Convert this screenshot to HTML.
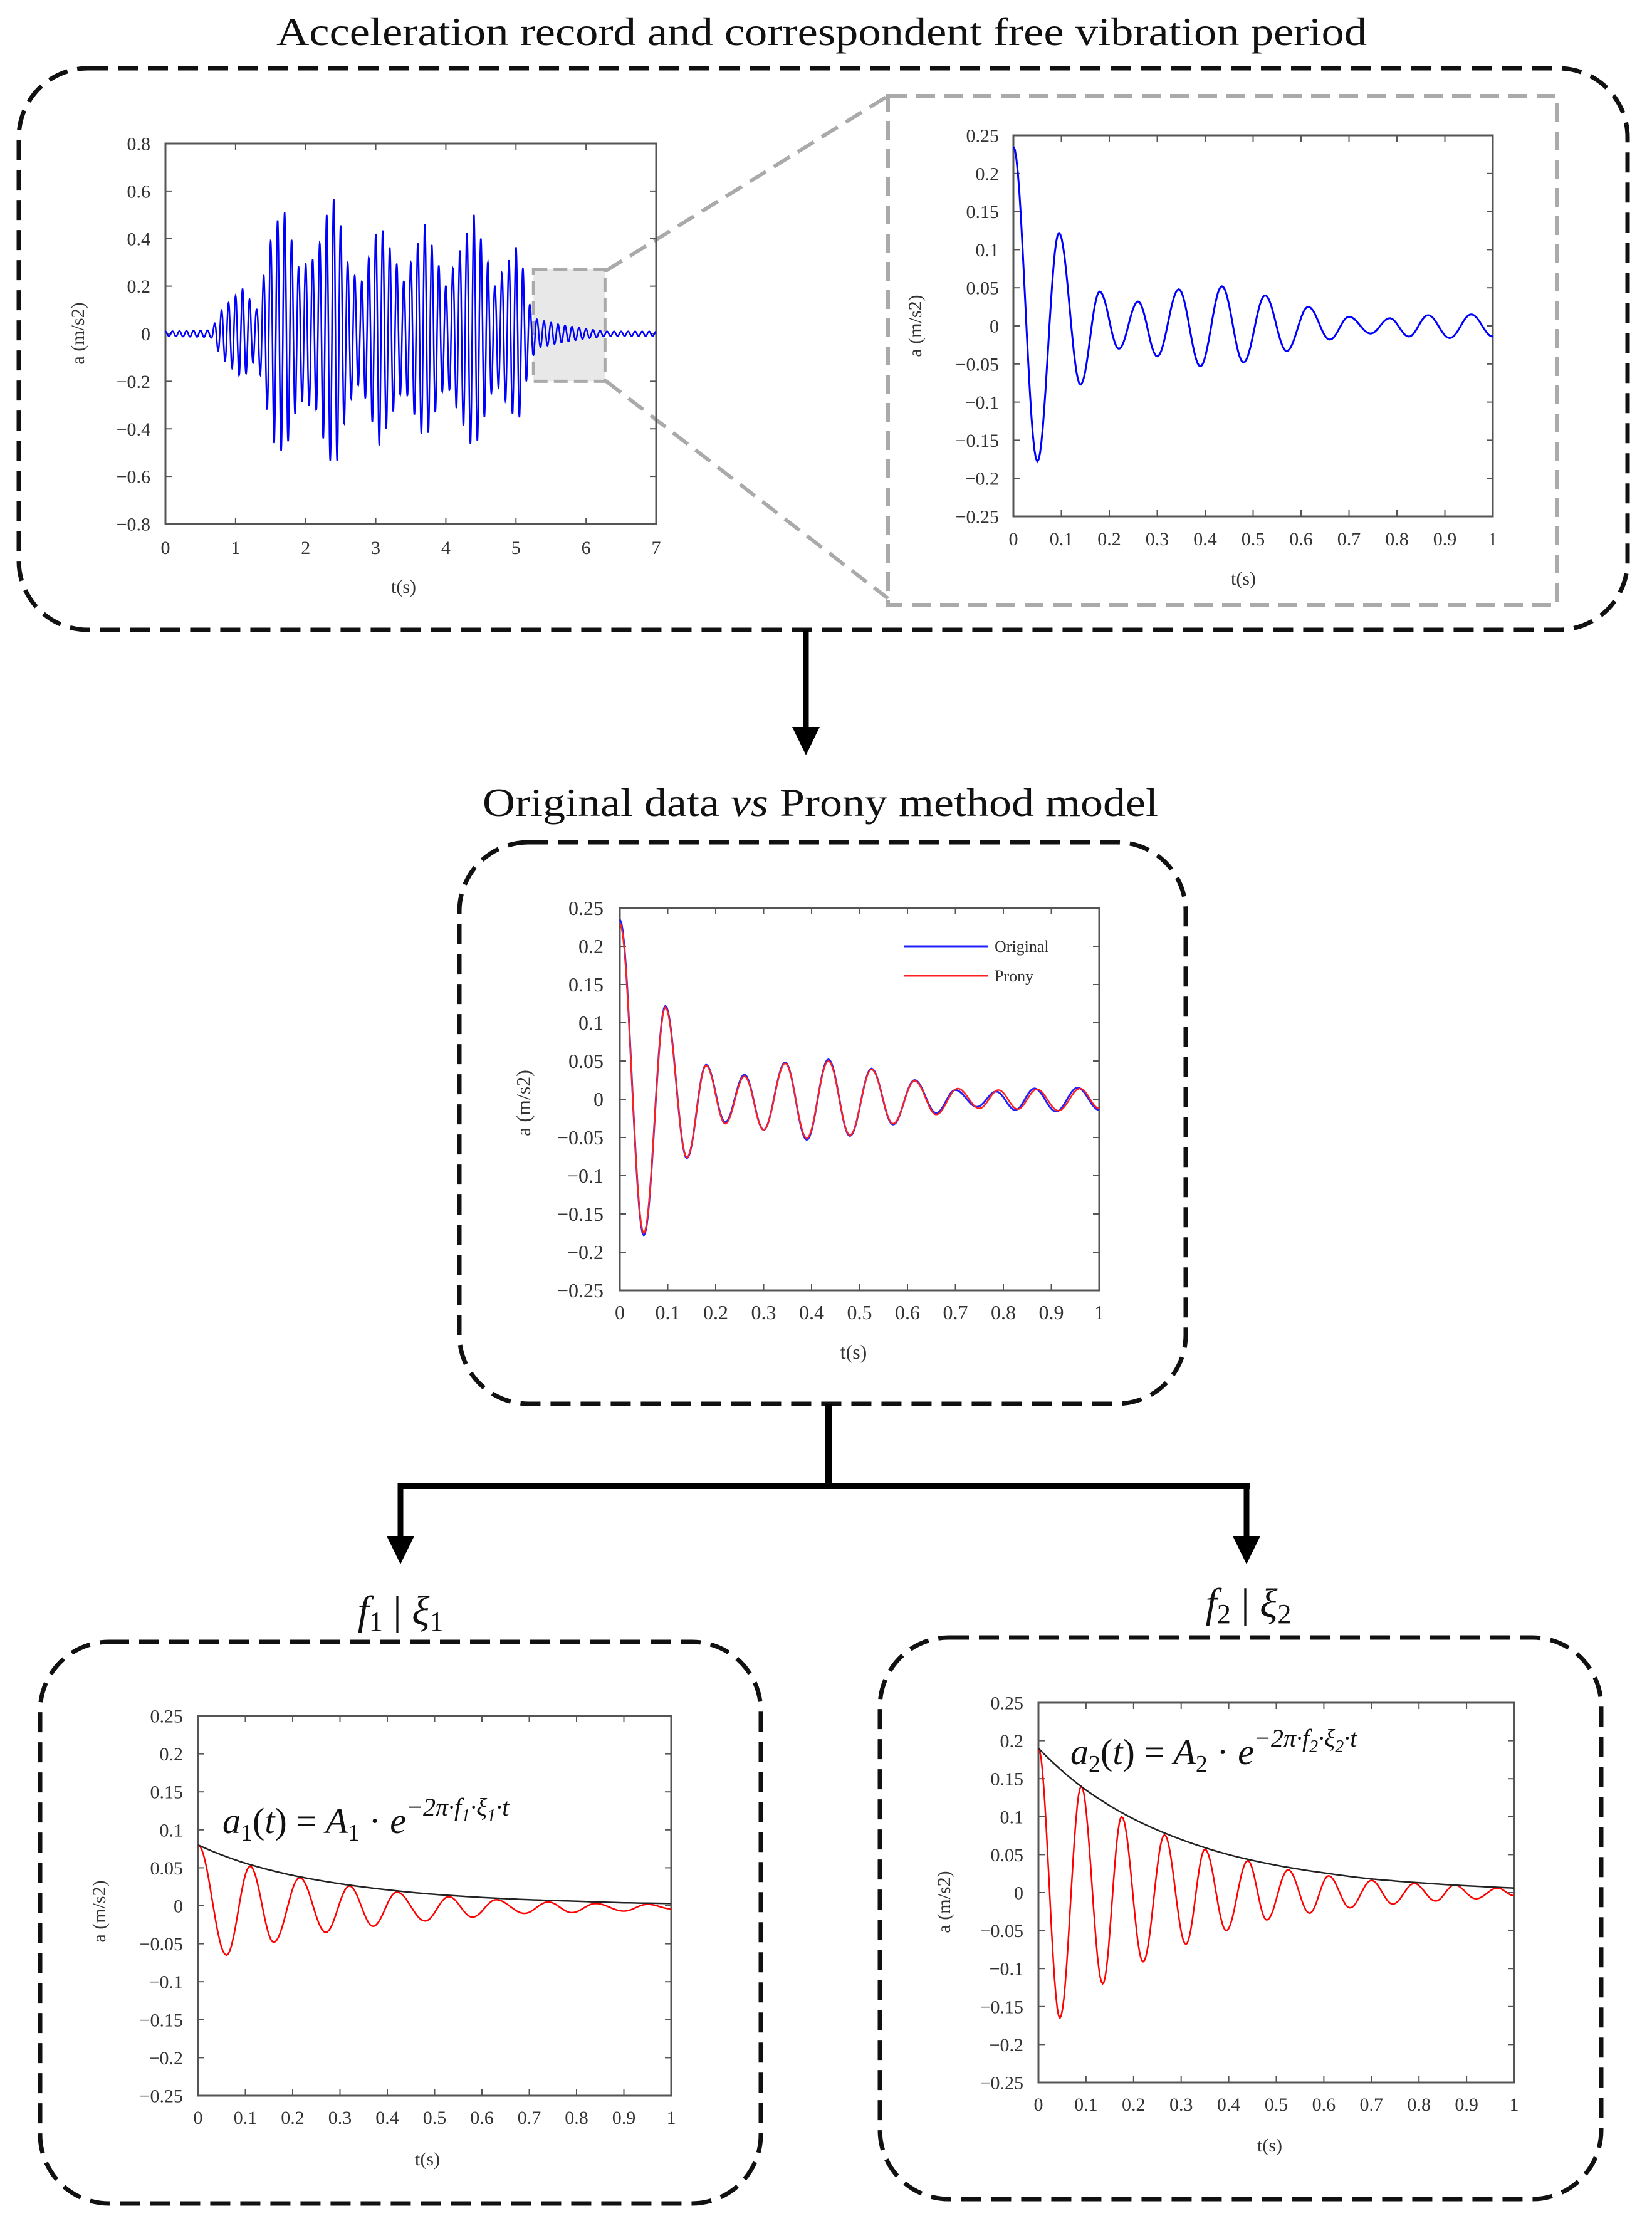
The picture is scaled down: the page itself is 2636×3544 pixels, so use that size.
<!DOCTYPE html>
<html><head><meta charset="utf-8"><style>
html,body{margin:0;padding:0;background:#fff}
svg{display:block}
text{font-family:"Liberation Serif",serif;fill:#333}
</style></head><body>
<svg id="root" xmlns="http://www.w3.org/2000/svg" width="2636" height="3544" viewBox="0 0 2636 3544">
<rect x="0" y="0" width="2636" height="3544" fill="#fff"/>
<text x="1311" y="72" font-size="64" text-anchor="middle" textLength="1740" lengthAdjust="spacingAndGlyphs" style="fill:#111">Acceleration record and correspondent free vibration period</text>
<rect x="30" y="109" width="2567" height="896" rx="110" fill="none" stroke="#111" stroke-width="7" stroke-dasharray="32 16"/>
<rect x="1417" y="153" width="1068" height="812" fill="none" stroke="#aaa" stroke-width="6" stroke-dasharray="30 15"/>
<line x1="967" y1="432" x2="1417" y2="153" stroke="#aaa" stroke-width="6" stroke-dasharray="30 15"/>
<line x1="967" y1="608" x2="1417" y2="955" stroke="#aaa" stroke-width="6" stroke-dasharray="30 15"/>
<line x1="1286" y1="1005" x2="1286" y2="1165" stroke="#000" stroke-width="9"/>
<polygon points="1264,1160 1308,1160 1286,1205" fill="#000"/>
<text x="1309" y="1302" font-size="64" text-anchor="middle" textLength="1078" lengthAdjust="spacingAndGlyphs" style="fill:#111">Original data <tspan font-style="italic">vs</tspan> Prony method model</text>
<rect x="733" y="1344" width="1159" height="896" rx="110" fill="none" stroke="#111" stroke-width="7" stroke-dasharray="32 16"/>
<line x1="1322" y1="2240" x2="1322" y2="2371" stroke="#000" stroke-width="10"/>
<line x1="639" y1="2371" x2="1994" y2="2371" stroke="#000" stroke-width="10"/>
<line x1="639" y1="2366" x2="639" y2="2460" stroke="#000" stroke-width="9"/>
<polygon points="617,2451 661,2451 639,2496" fill="#000"/>
<line x1="1989" y1="2366" x2="1989" y2="2460" stroke="#000" stroke-width="9"/>
<polygon points="1967,2451 2011,2451 1989,2496" fill="#000"/>
<text x="639" y="2592" font-size="66" text-anchor="middle" style="fill:#111;font-style:italic">f<tspan font-style="normal" font-size="44" dy="10">1</tspan><tspan font-style="normal" dy="-10"> | </tspan>ξ<tspan font-style="normal" font-size="44" dy="10">1</tspan></text>
<text x="1992" y="2580" font-size="66" text-anchor="middle" style="fill:#111;font-style:italic">f<tspan font-style="normal" font-size="44" dy="10">2</tspan><tspan font-style="normal" dy="-10"> | </tspan>ξ<tspan font-style="normal" font-size="44" dy="10">2</tspan></text>
<rect x="64" y="2620" width="1150" height="896" rx="110" fill="none" stroke="#111" stroke-width="7" stroke-dasharray="32 16"/>
<rect x="1404" y="2613" width="1151" height="896" rx="110" fill="none" stroke="#111" stroke-width="7" stroke-dasharray="32 16"/>
</svg>
<script>
// ---- data: full acceleration record (envelope of peaks) ----
const recEnvT = [0, 0.65, 0.8, 1.1, 1.3, 1.55, 1.7, 1.9, 2.15, 2.3, 2.42, 2.6, 2.78, 3.05, 3.4, 3.7, 4.0, 4.4, 4.7, 5.03, 5.2, 5.3, 5.6, 6.0, 6.3, 7.0];
const recEnvA = [0.01, 0.015, 0.1, 0.19, 0.1, 0.46, 0.51, 0.28, 0.32, 0.5, 0.58, 0.3, 0.2, 0.47, 0.22, 0.46, 0.2, 0.5, 0.2, 0.38, 0.12, 0.06, 0.04, 0.02, 0.01, 0.01];
const recFreqHz = [10];
// ---- data: free-vibration original (extrema) ----
const origT = [0, 0.05, 0.095, 0.14, 0.18, 0.22, 0.26, 0.30, 0.345, 0.39, 0.435, 0.48, 0.525, 0.57, 0.615, 0.66, 0.70, 0.745, 0.785, 0.825, 0.865, 0.91, 0.955, 1.0];
const origV = [0.235, -0.178, 0.122, -0.077, 0.045, -0.03, 0.032, -0.04, 0.048, -0.053, 0.052, -0.048, 0.04, -0.033, 0.025, -0.018, 0.012, -0.01, 0.01, -0.014, 0.014, -0.016, 0.015, -0.014];
// ---- data: Prony model (extrema) ----
const pronyT = [0, 0.05, 0.095, 0.14, 0.18, 0.22, 0.26, 0.30, 0.345, 0.39, 0.435, 0.48, 0.525, 0.57, 0.615, 0.66, 0.705, 0.75, 0.79, 0.83, 0.87, 0.915, 0.96, 1.0];
const pronyV = [0.23, -0.175, 0.12, -0.076, 0.044, -0.032, 0.03, -0.04, 0.047, -0.051, 0.05, -0.047, 0.039, -0.032, 0.024, -0.02, 0.014, -0.012, 0.012, -0.013, 0.013, -0.015, 0.014, -0.012];
// ---- data: mode 1 ----
const m1T = [0, 0.06, 0.11, 0.16, 0.215, 0.27, 0.32, 0.37, 0.42, 0.48, 0.53, 0.58, 0.63, 0.69, 0.74, 0.79, 0.84, 0.9, 0.95, 1.0];
const m1V = [0.08, -0.065, 0.052, -0.048, 0.037, -0.035, 0.026, -0.027, 0.018, -0.02, 0.012, -0.015, 0.008, -0.01, 0.005, -0.009, 0.003, -0.007, 0.002, -0.004];
const m1EnvT = [0, 0.1, 0.2, 0.3, 0.4, 0.5, 0.6, 0.7, 0.8, 0.9, 1.0];
const m1EnvV = [0.08, 0.056, 0.04, 0.029, 0.021, 0.015, 0.011, 0.008, 0.006, 0.004, 0.003];
// ---- data: mode 2 ----
const m2T = [0, 0.045, 0.09, 0.135, 0.175, 0.22, 0.265, 0.31, 0.35, 0.395, 0.44, 0.48, 0.525, 0.57, 0.61, 0.655, 0.7, 0.745, 0.79, 0.835, 0.875, 0.92, 0.965, 1.0];
const m2V = [0.19, -0.165, 0.14, -0.12, 0.1, -0.091, 0.076, -0.068, 0.057, -0.05, 0.042, -0.036, 0.03, -0.027, 0.022, -0.02, 0.016, -0.015, 0.012, -0.011, 0.01, -0.008, 0.006, -0.004];
const m2EnvT = [0, 0.1, 0.2, 0.3, 0.4, 0.5, 0.6, 0.7, 0.8, 0.9, 1.0];
const m2EnvV = [0.19, 0.135, 0.097, 0.07, 0.05, 0.036, 0.026, 0.018, 0.013, 0.009, 0.006];
// ---- tick labels ----
const recXTicks = ['0','1','2','3','4','5','6','7'];
const recYTicks = ['−0.8','−0.6','−0.4','−0.2','0','0.2','0.4','0.6','0.8'];
const fvXTicks = ['0','0.1','0.2','0.3','0.4','0.5','0.6','0.7','0.8','0.9','1'];
const fvYTicks = ['−0.25','−0.2','−0.15','−0.1','−0.05','0','0.05','0.1','0.15','0.2','0.25'];

const NS = 'http://www.w3.org/2000/svg';
const root = document.getElementById('root');
function mk(tag, attrs, parent) {
  const e = document.createElementNS(NS, tag);
  for (const k in attrs) e.setAttribute(k, attrs[k]);
  (parent || root).appendChild(e);
  return e;
}
function num(s){ return parseFloat(s.replace('−','-')); }

function axes(o) {
  const sx = v => o.x0 + (v - o.xmin) / (o.xmax - o.xmin) * (o.x1 - o.x0);
  const sy = v => o.y1 - (v - o.ymin) / (o.ymax - o.ymin) * (o.y1 - o.y0);
  const g = mk('g', {});
  
  
  const fr = mk('rect', {x:o.x0, y:o.y0, width:o.x1-o.x0, height:o.y1-o.y0, fill:'none', stroke:'#555', 'stroke-width':3}, g);
  
  
  o.xt.forEach(l => {
    const v = num(l), x = sx(v);
    mk('line', {x1:x, y1:o.y1, x2:x, y2:o.y1-10, stroke:'#555', 'stroke-width':2}, g);
    mk('line', {x1:x, y1:o.y0, x2:x, y2:o.y0+10, stroke:'#555', 'stroke-width':2}, g);
    const t = mk('text', {x:x, y:o.y1+o.xoff, 'font-size':o.fs, 'text-anchor':'middle'}, g);
    
    
    t.textContent = l;
  });
  o.yt.forEach(l => {
    const v = num(l), y = sy(v);
    mk('line', {x1:o.x0, y1:y, x2:o.x0+10, y2:y, stroke:'#555', 'stroke-width':2}, g);
    mk('line', {x1:o.x1, y1:y, x2:o.x1-10, y2:y, stroke:'#555', 'stroke-width':2}, g);
    const t = mk('text', {x:o.x0-o.yoff, y:y+o.fs*0.35, 'font-size':o.fs, 'text-anchor':'end'}, g);
    
    
    t.textContent = l;
  });
  const xl = mk('text', {x:o.xlx, y:o.xly, 'font-size':o.fs, 'text-anchor':'middle'}, g);
  
  
  xl.textContent = 't(s)';
  const yl = mk('text', {x:0, y:0, 'font-size':o.fs, 'text-anchor':'middle', transform:'translate('+o.ylx+','+o.yly+') rotate(-90)'}, g);
  
  
  yl.textContent = 'a (m/s2)';
  return {sx, sy, g};
}
function extremaPath(ax, T, V) {
  let d = '';
  for (let i = 0; i < T.length - 1; i++) {
    const n = 16;
    for (let k = (i === 0 ? 0 : 1); k <= n; k++) {
      const s = k / n, t = T[i] + (T[i+1]-T[i]) * s;
      const v = V[i] + (V[i+1]-V[i]) * (1 - Math.cos(Math.PI*s)) / 2;
      d += (d ? 'L' : 'M') + ax.sx(t).toFixed(1) + ',' + ax.sy(v).toFixed(1);
    }
  }
  return d;
}
function linPath(ax, T, V) {
  let d = '';
  for (let i = 0; i < T.length - 1; i++) {
    const n = 10;
    for (let k = (i===0?0:1); k <= n; k++) {
      const s = k/n, t = T[i] + (T[i+1]-T[i])*s;
      const a = Math.max(V[i],1e-4), b = Math.max(V[i+1],1e-4);
      const v = a * Math.pow(b/a, s);
      d += (d ? 'L' : 'M') + ax.sx(t).toFixed(1) + ',' + ax.sy(v).toFixed(1);
    }
  }
  return d;
}
function envAt(t) {
  for (let i = 0; i < recEnvT.length - 1; i++) {
    if (t <= recEnvT[i+1]) {
      const s = (t - recEnvT[i]) / (recEnvT[i+1] - recEnvT[i]);
      return recEnvA[i] + (recEnvA[i+1] - recEnvA[i]) * s;
    }
  }
  return recEnvA[recEnvA.length-1];
}

const a1 = axes({name:'acceleration-record-chart', x0:264, x1:1047, y0:229, y1:836, xmin:0, xmax:7, ymin:-0.8, ymax:0.8,
  xt:recXTicks, yt:recYTicks, fs:30, xoff:48, yoff:24, xlx:644, xly:946, ylx:134, yly:532});
const hl = mk('rect', {x:a1.sx(5.25), y:a1.sy(0.27), width:a1.sx(6.27)-a1.sx(5.25), height:a1.sy(-0.2)-a1.sy(0.27), fill:'#e8e8e8', stroke:'#aaa', 'stroke-width':5, 'stroke-dasharray':'22 10'}, a1.g);


{
  let d = '';
  const N = 2800;
  for (let i = 0; i <= N; i++) {
    const t = 7 * i / N;
    const v = envAt(t) * Math.cos(2*Math.PI*recFreqHz[0]*t);
    d += (i ? 'L' : 'M') + a1.sx(t).toFixed(1) + ',' + a1.sy(v).toFixed(1);
  }
  const p = mk('path', {d:d, fill:'none', stroke:'#0000ff', 'stroke-width':2.5}, a1.g);
  
  
}

const a2 = axes({name:'free-vibration-chart', x0:1617, x1:2382, y0:216, y1:824, xmin:0, xmax:1, ymin:-0.25, ymax:0.25,
  xt:fvXTicks, yt:fvYTicks, fs:30, xoff:46, yoff:23, xlx:1984, xly:933, ylx:1470, yly:520});
{
  const p = mk('path', {d:extremaPath(a2, origT, origV), fill:'none', stroke:'#0000ff', 'stroke-width':3}, a2.g);
  
  
}

const a3 = axes({name:'original-vs-prony-chart', x0:989, x1:1754, y0:1449, y1:2059, xmin:0, xmax:1, ymin:-0.25, ymax:0.25,
  xt:fvXTicks, yt:fvYTicks, fs:32, xoff:46, yoff:26, xlx:1362, xly:2168, ylx:846, yly:1760});
{
  const p = mk('path', {d:extremaPath(a3, origT, origV), fill:'none', stroke:'#2222ff', 'stroke-width':3}, a3.g);
  
  
  const q = mk('path', {d:extremaPath(a3, pronyT, pronyV), fill:'none', stroke:'#ff2020', 'stroke-width':2.5}, a3.g);
  
  
  const l1 = mk('line', {x1:1443, y1:1510, x2:1577, y2:1510, stroke:'#2222ff', 'stroke-width':3}, a3.g);
  
  
  const t1 = mk('text', {x:1587, y:1519, 'font-size':26}, a3.g);
  
  
  t1.textContent = 'Original';
  const l2 = mk('line', {x1:1443, y1:1557, x2:1577, y2:1557, stroke:'#ff2020', 'stroke-width':3}, a3.g);
  
  
  const t2 = mk('text', {x:1587, y:1566, 'font-size':26}, a3.g);
  
  
  t2.textContent = 'Prony';
}

const a4 = axes({name:'mode-1-chart', x0:316, x1:1071, y0:2738, y1:3344, xmin:0, xmax:1, ymin:-0.25, ymax:0.25,
  xt:fvXTicks, yt:fvYTicks, fs:30, xoff:45, yoff:24, xlx:682, xly:3455, ylx:168, yly:3050});
{
  const p = mk('path', {d:extremaPath(a4, m1T, m1V), fill:'none', stroke:'#ff0000', 'stroke-width':2.5}, a4.g);
  
  
  const e = mk('path', {d:linPath(a4, m1EnvT, m1EnvV), fill:'none', stroke:'#222', 'stroke-width':2.5}, a4.g);
  
  
  const eq = mk('text', {x:355, y:2925, 'font-size':58, style:'fill:#111;font-style:italic'}, a4.g);
  
  
  eq.innerHTML = 'a<tspan font-size="38" dy="12" font-style="normal">1</tspan><tspan dy="-12" font-style="normal">(</tspan>t<tspan font-style="normal">) = </tspan>A<tspan font-size="38" dy="12" font-style="normal">1</tspan><tspan dy="-12" font-style="normal"> · </tspan>e<tspan font-size="40" dy="-28">−2π·f<tspan font-size="28" dy="9">1</tspan><tspan dy="-9">·ξ</tspan><tspan font-size="28" dy="9">1</tspan><tspan dy="-9">·t</tspan></tspan>';
}

const a5 = axes({name:'mode-2-chart', x0:1657, x1:2416, y0:2717, y1:3323, xmin:0, xmax:1, ymin:-0.25, ymax:0.25,
  xt:fvXTicks, yt:fvYTicks, fs:30, xoff:45, yoff:24, xlx:2026, xly:3433, ylx:1516, yly:3035});
{
  const p = mk('path', {d:extremaPath(a5, m2T, m2V), fill:'none', stroke:'#ff0000', 'stroke-width':2.5}, a5.g);
  
  
  const e = mk('path', {d:linPath(a5, m2EnvT, m2EnvV), fill:'none', stroke:'#222', 'stroke-width':2.5}, a5.g);
  
  
  const eq = mk('text', {x:1708, y:2815, 'font-size':58, style:'fill:#111;font-style:italic'}, a5.g);
  
  
  eq.innerHTML = 'a<tspan font-size="38" dy="12" font-style="normal">2</tspan><tspan dy="-12" font-style="normal">(</tspan>t<tspan font-style="normal">) = </tspan>A<tspan font-size="38" dy="12" font-style="normal">2</tspan><tspan dy="-12" font-style="normal"> · </tspan>e<tspan font-size="40" dy="-28">−2π·f<tspan font-size="28" dy="9">2</tspan><tspan dy="-9">·ξ</tspan><tspan font-size="28" dy="9">2</tspan><tspan dy="-9">·t</tspan></tspan>';
}
</script>
</body></html>
